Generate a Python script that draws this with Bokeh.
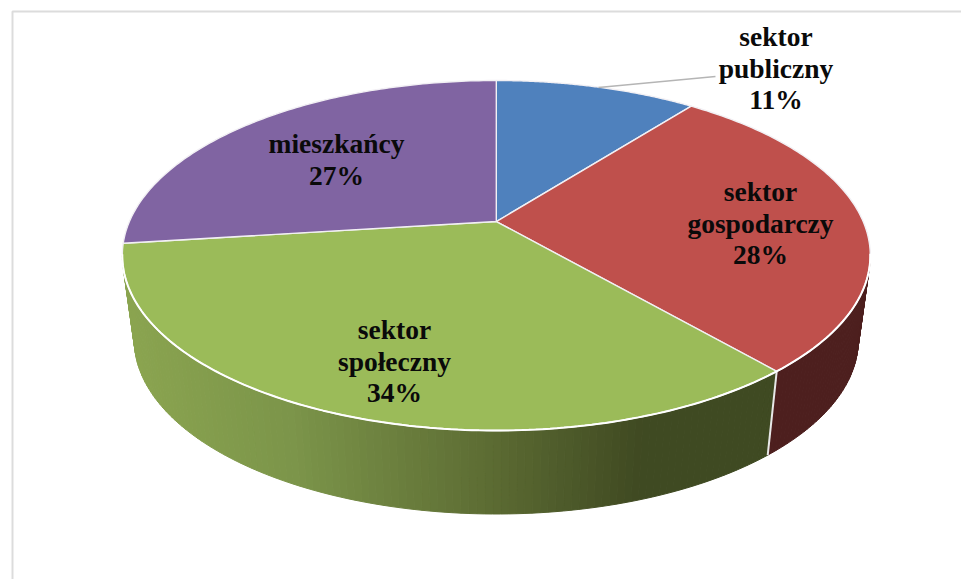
import numpy as np
from bokeh.plotting import figure
from bokeh.embed import file_html
from bokeh.resources import INLINE
from bokeh.core.properties import value as fv

# data
categories = ["sektor publiczny", "sektor gospodarczy", "sektor społeczny", "mieszkańcy"]
shares = [10.5, 28.2, 34.3, 27.0]
labels = ["11%", "28%", "34%", "27%"]
colors = ["#4f81bd", "#bf504c", "#9bbb59", "#8064a2"]
side_colors = ["#2a4365", "#4d1f1e", "#3f4a22", "#46365a"]

# geometry of the tilted disc (page pixels)
CX, CY, RX, RY = 495.8, 255.0, 374.0, 175.0
BCX, BCY, BRX, BRY = 495.8, 339.5, 362.0, 174.0
A = 0.194  # perspective shift of the hub


def boost(deg):
    """Angle on the flat disc (clockwise from the top) to a point on the tilted rim."""
    r = np.radians(np.asarray(deg, dtype=float))
    X, Y = np.sin(r), np.cos(r)
    d = 1 + A * Y
    return X * np.sqrt(1 - A * A) / d, (Y + A) / d


def top(u, v):
    return CX + RX * u, CY - RY * v


def bottom(u, v):
    return BCX + BRX * u, BCY - BRY * v


edges = np.concatenate([[0], np.cumsum(shares)]) / sum(shares) * 360
HUB = (CX, CY - RY * A)

p = figure(width=961, height=579, x_range=(0, 961), y_range=(579, 0),
           output_backend="svg", toolbar_location=None, min_border=0,
           outline_line_color=None, background_fill_color="white")
p.axis.visible = False
p.grid.visible = False

# frame
p.line([12, 12, 961], [579, 11, 11], line_color="#dcdcdc", line_width=2)

# gradient of the front wall
STOPS_X = [134, 300, 480, 640, 780]
STOPS_R = [0x8b, 0x7c, 0x5f, 0x40, 0x3f]
STOPS_G = [0xa5, 0x95, 0x6f, 0x4a, 0x4a]
STOPS_B = [0x50, 0x4a, 0x35, 0x22, 0x22]


def wall_color(x):
    return "#%02x%02x%02x" % (int(np.interp(x, STOPS_X, STOPS_R)),
                              int(np.interp(x, STOPS_X, STOPS_G)),
                              int(np.interp(x, STOPS_X, STOPS_B)))


# walls: only the part of each slice that faces the viewer
xs, ys, cs = [], [], []
for i in range(4):
    a = np.linspace(edges[i], edges[i + 1], 121)
    u, v = boost(a)
    keep = v <= 0
    if keep.sum() < 2:
        continue
    u, v = u[keep], v[keep]
    tx, ty = top(u, v)
    bx, by = bottom(u, v)
    for k in range(len(u) - 1):
        xs.append([tx[k], tx[k + 1], bx[k + 1], bx[k]])
        ys.append([ty[k], ty[k + 1], by[k + 1], by[k]])
        cs.append(wall_color(bx[k]) if i == 2 else side_colors[i])
p.patches(xs, ys, fill_color=cs, line_color=cs, line_width=1)

# close the wall down to the widest points of the rim
for i, sgn in [(1, 1.0), (2, -1.0)]:
    a = np.linspace(edges[i], edges[i + 1], 361)
    u, v = boost(a)
    tx0, ty0 = top(sgn, 0.0)
    bx0, by0 = bottom(sgn, 0.0)
    k2 = np.where(v <= 0)[0]
    j = k2[0] if sgn > 0 else k2[-1]
    tx1, ty1 = top(u[j], v[j])
    bx1, by1 = bottom(u[j], v[j])
    c = side_colors[1] if sgn > 0 else wall_color(bx0)
    p.patch([tx0, tx1, bx1, bx0], [ty0, ty1, by1, by0], fill_color=c, line_color=c)

# separator on the wall between the red and green slices
u, v = boost(edges[2])
tx, ty = top(u, v)
bx, by = bottom(u, v)
p.line([tx, bx], [ty, by], line_color="#e8e8e8", line_width=2)

# top faces
for i in range(4):
    a = np.linspace(edges[i], edges[i + 1], 121)
    u, v = boost(a)
    tx, ty = top(u, v)
    p.patch(np.r_[HUB[0], tx], np.r_[HUB[1], ty], fill_color=colors[i],
            line_color="#f2f0f4", line_width=1.4, line_join="round")

# white rim on the front
a = np.linspace(edges[1] + 10, edges[3], 241)
u, v = boost(a)
keep = v <= 0.02
tx, ty = top(u[keep], v[keep])
p.line(tx, ty, line_color="white", line_width=2)

# leader line
p.line([598, 715], [87, 76], line_color="#b5b5b5", line_width=1.3)

# labels
text_x = [775.5, 760, 394, 336]
text_y = [36, 191, 329, 143]
for i, name in enumerate(categories):
    lines = (name.split(" ") if " " in name else [name]) + [labels[i]]
    p.text([text_x[i]] * len(lines), [text_y[i] + 31.7 * k for k in range(len(lines))],
           text=lines, text_font=fv("Liberation Serif"), text_font_style="bold",
           text_font_size="27.5px", text_color="#0a0a0a",
           text_align="center", text_baseline="middle")

open("out.html", "w").write(file_html(p, INLINE))
